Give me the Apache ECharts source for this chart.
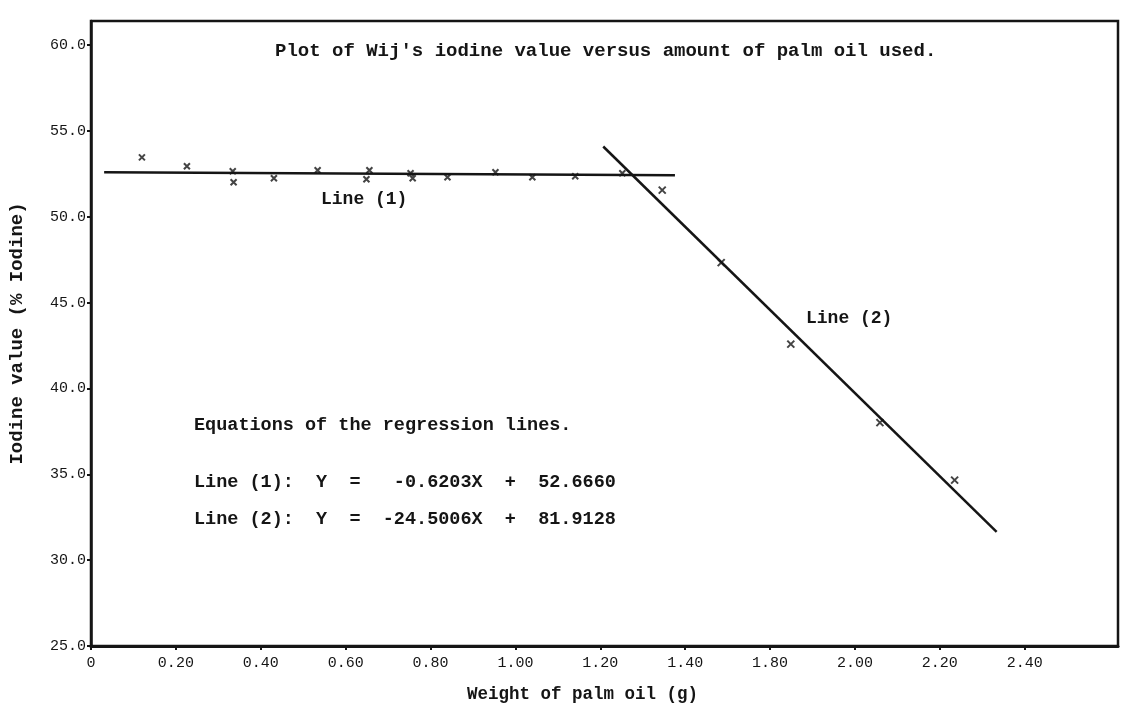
<!DOCTYPE html>
<html>
<head>
<meta charset="utf-8">
<script src="https://cdn.jsdelivr.net/npm/echarts@6/dist/echarts.min.js"></script>
<style>
html,body{margin:0;padding:0;background:#fff;}
#c{width:1121px;height:709px;}
</style>
</head>
<body>
<div id="c"></div>
<script>
// Tick labels as printed on the original x axis (one per 0.2 step of the plotted scale)
const xTickLabels = ['0','0.20','0.40','0.60','0.80','1.00','1.20','1.40','1.80','2.00','2.20','2.40'];
const yTicks = [25, 30, 35, 40, 45, 50, 55, 60];

// Observed points, plateau region (Line 1)
const line1X = [0.120,0.226,0.334,0.336,0.431,0.534,0.656,0.649,0.753,0.758,0.840,0.953,1.040,1.141,1.252];
const line1Y = [53.46,52.94,52.65,52.01,52.24,52.71,52.71,52.18,52.53,52.24,52.30,52.59,52.30,52.36,52.53];

// Observed points, falling region (Line 2)
const line2X = [1.346,1.485,1.649,1.859,2.035];
const line2Y = [51.55,47.33,42.58,38.01,34.66];

// Drawn regression lines (end points)
const reg1X = [0.031, 1.376];
const reg1Y = [52.59, 52.41];
const reg2X = [1.207, 2.134];
const reg2Y = [54.09, 31.65];

const titleText = "Plot of Wij's iodine value versus amount of palm oil used.";
const eqHeader = 'Equations of the regression lines.';
const eqLine1 = 'Line (1):  Y  =   -0.6203X  +  52.6660';
const eqLine2 = 'Line (2):  Y  =  -24.5006X  +  81.9128';

const zip = (xs, ys) => xs.map((x, i) => [x, ys[i]]);
const ink = '#151515';
const mono = '"Liberation Mono", "DejaVu Sans Mono", monospace';

const chart = echarts.init(document.getElementById('c'));
const crossPath = 'path://M0 0L10 10M10 0L0 10';

chart.setOption({
  animation: false,
  backgroundColor: '#fff',
  grid: {left: 91, right: 3, top: 21, bottom: 59, show: true, borderColor: ink, borderWidth: 2.5, backgroundColor: 'transparent'},
  xAxis: {
    type: 'value', min: 0, max: 2.42,
    name: 'Weight of palm oil (g)', nameLocation: 'middle', nameGap: 40,
    nameTextStyle: {fontFamily: mono, fontSize: 17.5, fontWeight: 'bold', color: ink, padding: [0, 44, 0, 0]},
    splitLine: {show: false},
    axisLine: {show: true, lineStyle: {color: ink, width: 3}},
    axisTick: {show: true, inside: false, length: 4, lineStyle: {color: ink, width: 2},
      customValues: xTickLabels.map((_, i) => i * 0.2)},
    axisLabel: {
      customValues: xTickLabels.map((_, i) => i * 0.2),
      formatter: v => { const i = Math.round(v / 0.2); return xTickLabels[i] || ''; },
      fontFamily: mono, fontSize: 15, color: ink, margin: 10
    }
  },
  yAxis: {
    type: 'value', min: 25, max: 61.4,
    name: 'Iodine value (% Iodine)', nameLocation: 'middle', nameGap: 64,
    nameTextStyle: {fontFamily: mono, fontSize: 19, fontWeight: 'bold', color: ink},
    splitLine: {show: false},
    axisLine: {show: true, lineStyle: {color: ink, width: 2.5}},
    axisTick: {show: true, length: 4, lineStyle: {color: ink, width: 2}, customValues: yTicks},
    axisLabel: {customValues: yTicks, formatter: v => v.toFixed(1), fontFamily: mono, fontSize: 15, color: ink, margin: 5}
  },
  graphic: [
    {type: 'text', left: 275, top: 42, style: {text: titleText, font: 'bold 19px ' + mono, fill: ink}},
    {type: 'text', left: 321, top: 190, style: {text: 'Line (1)', font: 'bold 18px ' + mono, fill: ink}},
    {type: 'text', left: 806, top: 309, style: {text: 'Line (2)', font: 'bold 18px ' + mono, fill: ink}},
    {type: 'text', left: 194, top: 416, style: {text: eqHeader, font: 'bold 18.5px ' + mono, fill: ink}},
    {type: 'text', left: 194, top: 473, style: {text: eqLine1, font: 'bold 18.5px ' + mono, fill: ink}},
    {type: 'text', left: 194, top: 510, style: {text: eqLine2, font: 'bold 18.5px ' + mono, fill: ink}}
  ],
  series: [
    {type: 'line', data: zip(reg1X, reg1Y), symbol: 'none', lineStyle: {color: ink, width: 2.5}, z: 2},
    {type: 'line', data: zip(reg2X, reg2Y), symbol: 'none', lineStyle: {color: ink, width: 2.5}, z: 2},
    {type: 'scatter', data: zip(line1X, line1Y), symbol: crossPath, symbolSize: 6,
      itemStyle: {color: 'transparent', borderColor: ink, borderWidth: 2}, z: 3},
    {type: 'scatter', data: zip(line2X, line2Y), symbol: crossPath, symbolSize: 7,
      itemStyle: {color: 'transparent', borderColor: ink, borderWidth: 2}, z: 3}
  ]
});
</script>
</body>
</html>
